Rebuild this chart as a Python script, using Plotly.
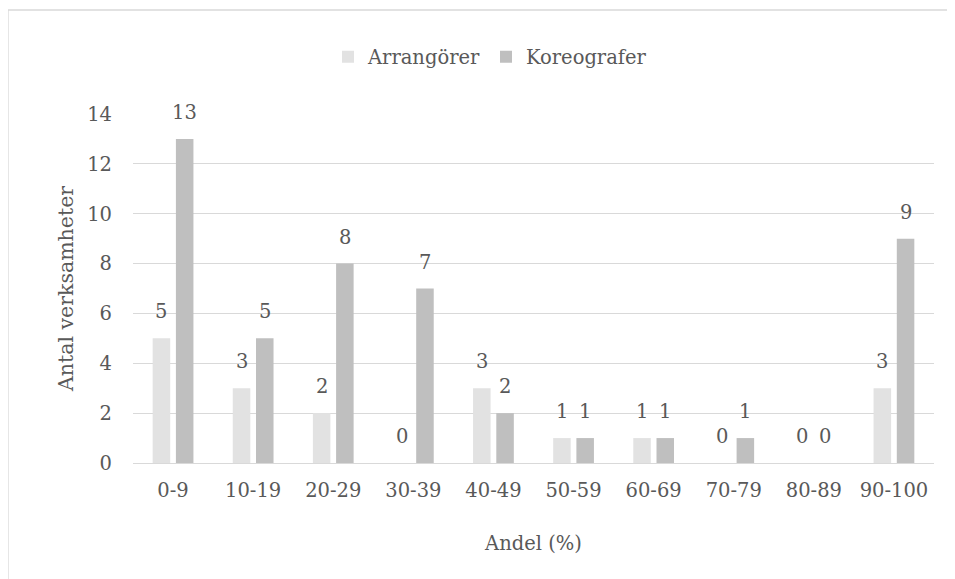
import plotly.graph_objects as go

categories = ["0-9", "10-19", "20-29", "30-39", "40-49", "50-59", "60-69", "70-79", "80-89", "90-100"]
arrangorer = [5, 3, 2, 0, 3, 1, 1, 0, 0, 3]
koreografer = [13, 5, 8, 7, 2, 1, 1, 1, 0, 9]
series_names = ["Arrangörer", "Koreografer"]
y_ticks = [0, 2, 4, 6, 8, 10, 12, 14]

FONT = "DejaVu Serif"
FS = 19.5
TXT = "#595959"
GRID = "#d9d9d9"
C_ARR = "#e2e2e2"
C_KOR = "#bfbfbf"

OFF = 8  # page body margin
W, H = 955 - OFF, 579 - OFF
ML, MT = 133 - OFF, 114 - OFF
PLOT_R, PLOT_B = 934 - OFF, 463 - OFF
MR, MB = W - PLOT_R, H - PLOT_B
PW, PH = W - ML - MR, H - MT - MB

fig = go.Figure()
fig.add_trace(go.Bar(x=categories, y=arrangorer, name=series_names[0],
                     marker=dict(color=C_ARR, line=dict(width=0))))
fig.add_trace(go.Bar(x=categories, y=koreografer, name=series_names[1],
                     marker=dict(color=C_KOR, line=dict(width=0))))

bargap = 0.42
slot_px = PW / len(categories) * (1 - bargap) / 2
for vals, sh in ((arrangorer, -slot_px / 2), (koreografer, slot_px / 2)):
    for c, v in zip(categories, vals):
        fig.add_annotation(x=c, y=v, text=str(v), showarrow=False,
                           xref="x", yref="y", yanchor="bottom",
                           xshift=sh, yshift=13,
                           font=dict(family=FONT, size=FS, color=TXT))

# chart frame (screen pixel positions)
def px_x(p):
    return (p - OFF - ML) / PW

def px_y(p):
    return (H - MB - (p - OFF)) / PH

fig.add_shape(type="rect", xref="paper", yref="paper",
              x0=px_x(8), x1=px_x(975), y0=px_y(600), y1=px_y(10),
              line=dict(color=GRID, width=1.3), fillcolor="rgba(0,0,0,0)", layer="below")

fig.update_layout(
    width=W, height=H,
    margin=dict(l=ML, r=MR, t=MT, b=MB),
    paper_bgcolor="white", plot_bgcolor="white",
    barmode="group", bargap=bargap, bargroupgap=0.245,
    font=dict(family=FONT, size=FS, color=TXT),
    showlegend=True,
    legend=dict(orientation="h", x=px_x(490), xanchor="center",
                y=px_y(57), yanchor="middle",
                font=dict(family=FONT, size=FS, color=TXT),
                itemwidth=30, traceorder="normal"),
    xaxis=dict(type="category", showgrid=False, showline=True, linecolor=GRID, linewidth=1.3,
               ticks="", tickfont=dict(family=FONT, size=FS, color=TXT),
               ticklabelstandoff=9,
               title=dict(text="Andel (%)", standoff=35,
                          font=dict(family=FONT, size=FS, color=TXT))),
    yaxis=dict(range=[0, 14], tickvals=y_ticks, showgrid=True, gridcolor=GRID, gridwidth=1.3,
               zeroline=False, showline=False, ticks="",
               tickfont=dict(family=FONT, size=FS, color=TXT),
               ticklabelstandoff=20,
               title=dict(text="Antal verksamheter", standoff=7,
                          font=dict(family=FONT, size=20.5, color=TXT))),
)

fig.write_html("out.html")
